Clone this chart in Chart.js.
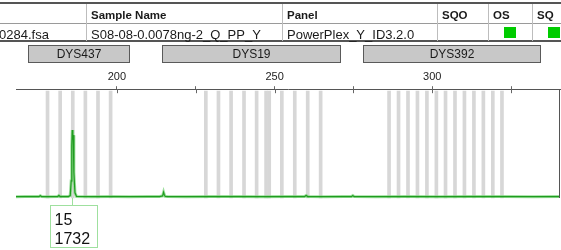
<!DOCTYPE html>
<html>
<head>
<meta charset="utf-8">
<script src="https://cdn.jsdelivr.net/npm/chart.js@4.4.1/dist/chart.umd.min.js"></script>
<style>
  body { margin: 0; background: #fff; }
  #wrap { position: relative; width: 561px; height: 250px; overflow: hidden; font-family: Arial, "Liberation Sans", sans-serif; }
  #js-chart { position: absolute; left: 0; top: 0; }
  #table { position: absolute; left: 0; top: 0; width: 561px; height: 43px; }
  .line { position: absolute; left: 0; width: 561px; }
  .vline { position: absolute; width: 1px; background: #bdbdbd; top: 4px; height: 37px; }
  .cell { position: absolute; white-space: nowrap; color: #1a1a1a; }
  .head { top: 9px; font-size: 11.5px; font-weight: bold; }
  .data { top: 27px; font-size: 13px; }
  .ok { position: absolute; top: 27px; width: 12px; height: 11px; background: #0c0; }
</style>
</head>
<body>
<div id="wrap">
  <canvas id="js-chart" width="561" height="250"></canvas>
  <div id="table"></div>
</div>
<script>
// таблица с образцом
const tableHeaders = ['', 'Sample Name', 'Panel', 'SQO', 'OS', 'SQ'];
const tableRow = ['0284.fsa', 'S08-08-0.0078ng-2_Q_PP_Y', 'PowerPlex_Y_ID3.2.0', '', 'ok', 'ok'];

// пики (размер в п.н. и высота в RFU)
const sizeBp = [168, 171, 173.5, 175.3, 175.7, 176.1, 178, 181.2, 181.6, 182.0,
  184.6, 185.2, 185.5, 185.7, 185.85, 186.0, 186.15, 186.35, 186.7, 187.2,
  192, 198, 204, 210, 213.5, 214.5, 214.8, 215.0, 215.3, 216,
  222, 230, 238, 246, 254, 259.5, 260, 260.5, 266, 272,
  274.4, 274.8, 275.2, 282, 292, 302, 312, 322, 332, 340.5];
const rfu = [12, 14, 13, 14, 35, 14, 12, 14, 38, 13,
  14, 40, 420, 1320, 1732, 1480, 1600, 640, 110, 18,
  12, 14, 12, 13, 14, 30, 125, 70, 18, 13,
  12, 14, 13, 12, 14, 13, 40, 14, 12, 13,
  14, 38, 14, 12, 13, 12, 14, 13, 12, 13];

// бины аллелей
const binBp = [178, 182, 186, 190, 194, 198,
  228.2, 232.2, 236.2, 240.3, 244.3, 247.3, 248.3, 252.3, 256.4, 260.5, 264.6,
  286.3, 289.3, 292.3, 295.3, 298.3, 301.3, 304.2, 307.2, 310.2, 313.2, 316.2, 319.2, 322.1];

// маркеры
const markerNames = ['DYS437', 'DYS19', 'DYS392'];
const markerStart = [171.8, 214.3, 278.0];
const markerEnd = [203.8, 270.7, 334.1];

// подпись пика
const peakAllele = '15';
const peakBp = 185.8;
const peakRfu = 1732;

buildTable();
drawChart();

function buildTable() {
  const box = document.querySelector('#table');
  const colLeft = [0, 86, 282, 437, 488, 532];
  let html = '';
  html += '<div class="line" style="top:2px;height:2px;background:#555"></div>';
  html += '<div class="line" style="top:23px;height:1px;background:#9a9a9a"></div>';
  html += '<div class="line" style="top:40px;height:2px;background:#555"></div>';
  colLeft.slice(1).forEach(x => { html += `<div class="vline" style="left:${x}px"></div>`; });
  tableHeaders.forEach((t, i) => {
    if (t) html += `<div class="cell head" style="left:${colLeft[i] + 5}px">${t}</div>`;
  });
  tableRow.forEach((t, i) => {
    if (t === 'ok') html += `<div class="ok" style="left:${colLeft[i] + 16}px"></div>`;
    else if (t) html += `<div class="cell data" style="left:${i === 0 ? -1 : colLeft[i] + 5}px">${t}</div>`;
  });
  box.innerHTML = html;
}

function drawChart() {
  const ctx = document.querySelector('#js-chart').getContext('2d');
  const trace = sizeBp.map((x, i) => ({ x, y: rfu[i] }));

  const extras = {
    id: 'extras',
    afterDraw(chart) {
      const { ctx, chartArea: area, scales: { x } } = chart;
      ctx.save();
      // засечки ниже оси
      ctx.strokeStyle = '#666';
      ctx.lineWidth = 1;
      x.ticks.forEach(t => {
        const px = Math.round(x.getPixelForValue(t.value)) + 0.5;
        ctx.beginPath();
        ctx.moveTo(px, area.top);
        ctx.lineTo(px, area.top + 4);
        ctx.stroke();
      });
      // правая граница
      ctx.strokeStyle = '#555';
      ctx.beginPath();
      ctx.moveTo(area.right - 0.5, area.top);
      ctx.lineTo(area.right - 0.5, area.bottom - 2);
      ctx.stroke();
      // плашки маркеров
      ctx.font = '12px Arial, "Liberation Sans", sans-serif';
      ctx.textAlign = 'center';
      ctx.textBaseline = 'middle';
      markerNames.forEach((name, i) => {
        const x0 = Math.round(x.getPixelForValue(markerStart[i])) + 0.5;
        const x1 = Math.round(x.getPixelForValue(markerEnd[i])) + 0.5;
        ctx.fillStyle = '#c8c8c8';
        ctx.fillRect(x0, 45.5, x1 - x0, 17);
        ctx.strokeStyle = '#5a5a5a';
        ctx.strokeRect(x0, 45.5, x1 - x0, 17);
        ctx.fillStyle = '#1a1a1a';
        ctx.fillText(name, (x0 + x1) / 2, 54.5);
      });
      // подпись пика
      const pp = Math.round(x.getPixelForValue(peakBp)) + 0.5;
      ctx.strokeStyle = '#9fe09f';
      ctx.beginPath();
      ctx.moveTo(pp, area.bottom - 2);
      ctx.lineTo(pp, 205);
      ctx.stroke();
      ctx.fillStyle = '#fff';
      ctx.fillRect(pp - 22, 205.5, 47, 42);
      ctx.strokeRect(pp - 22, 205.5, 47, 42);
      ctx.fillStyle = '#111';
      ctx.font = '16px Arial, "Liberation Sans", sans-serif';
      ctx.textAlign = 'left';
      ctx.textBaseline = 'alphabetic';
      ctx.fillText(peakAllele, pp - 18, 225);
      ctx.fillText(String(peakRfu), pp - 18, 244);
      ctx.restore();
    },
  };

  new Chart(ctx, {
    type: 'line',
    data: {
      datasets: [
        {
          type: 'bar',
          data: binBp.map(b => ({ x: b, y: [-20, 2736] })),
          backgroundColor: '#d7d7d7',
          barThickness: 3,
          order: 3,
        },
        {
          data: trace,
          borderColor: 'rgba(125, 212, 125, 0.75)',
          borderWidth: 3,
          pointRadius: 0,
          order: 2,
        },
        {
          data: trace,
          borderColor: '#1f9c1f',
          borderWidth: 1.2,
          pointRadius: 0,
          order: 1,
        },
      ],
    },
    options: {
      responsive: false,
      animation: false,
      layout: { padding: { top: 67, left: 16, right: 1, bottom: 50 } },
      plugins: { legend: { display: false }, tooltip: { enabled: false } },
      scales: {
        x: {
          type: 'linear',
          position: 'top',
          offset: false,
          min: 168,
          max: 340.5,
          afterBuildTicks: scale => {
            scale.ticks = scale.ticks.filter(t => t.value % 25 === 0);
          },
          ticks: {
            stepSize: 25,
            autoSkip: false,
            maxRotation: 0,
            padding: 3,
            color: '#222',
            font: { size: 11, family: 'Arial, "Liberation Sans", sans-serif' },
            callback: v => (v % 50 === 0 ? String(v) : ''),
          },
          grid: { drawOnChartArea: false, drawTicks: true, tickLength: 3, color: '#666', offset: false },
          border: { color: '#555', width: 1 },
        },
        y: { display: false, min: -75, max: 2786 },
      },
    },
    plugins: [extras],
  });
}
</script>
</body>
</html>
